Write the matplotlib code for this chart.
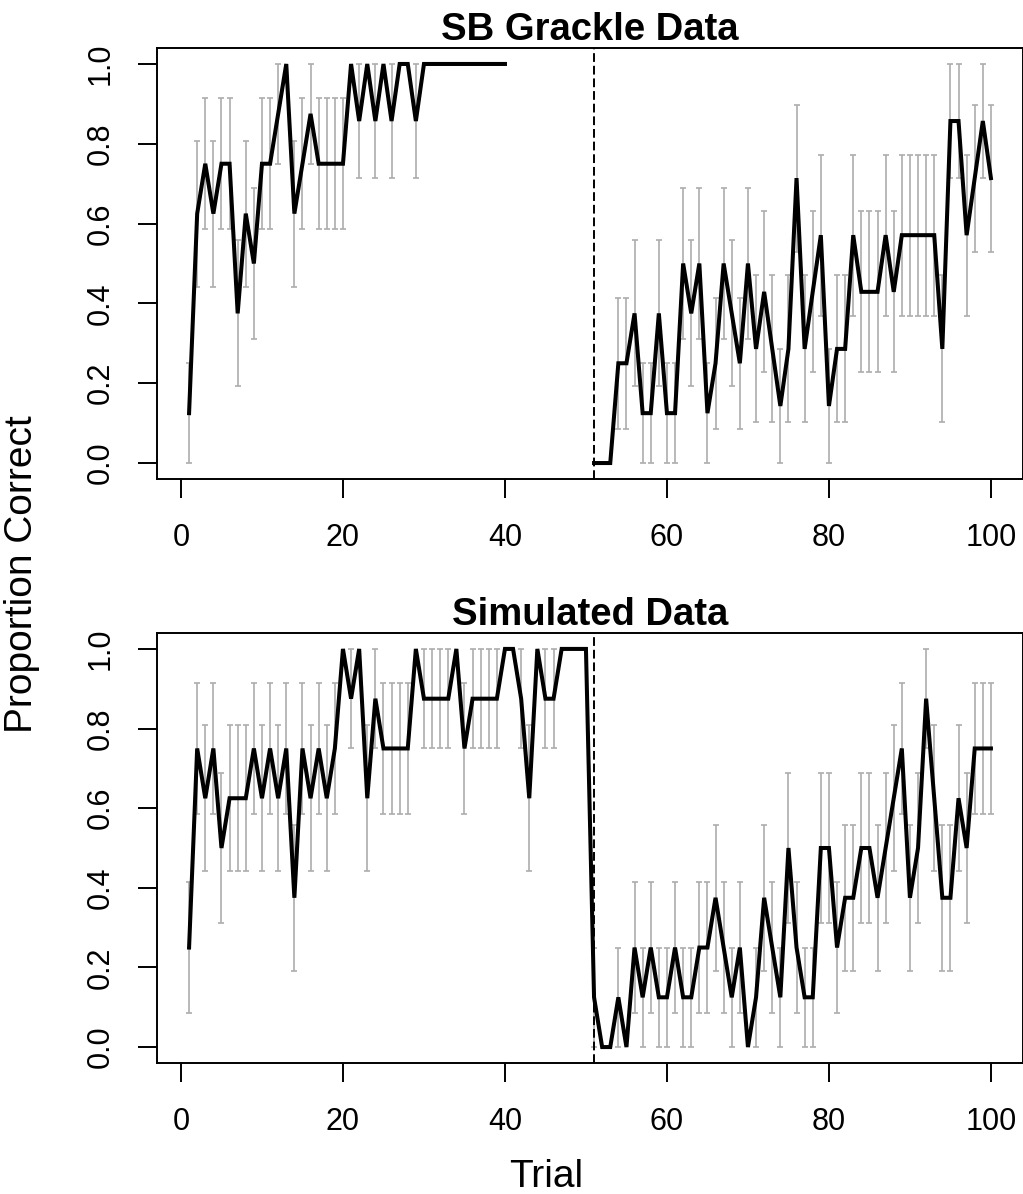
import numpy as np
import matplotlib
matplotlib.use("Agg")
import matplotlib.pyplot as plt

plt.rcParams['font.family'] = ['Liberation Sans', 'DejaVu Sans']

# SB grackle data: first reversal (trials 1-40) and second phase (trials 51-100)
grackle_trials_a = list(range(1, 41))
grackle_prop_a = [0.125, 0.625, 0.75, 0.625, 0.75, 0.75, 0.375, 0.625, 0.5, 0.75,
                  0.75, 0.875, 1.0, 0.625, 0.75, 0.875, 0.75, 0.75, 0.75, 0.75,
                  1.0, 0.857, 1.0, 0.857, 1.0, 0.857, 1.0, 1.0, 0.857, 1.0,
                  1.0, 1.0, 1.0, 1.0, 1.0, 1.0, 1.0, 1.0, 1.0, 1.0]
grackle_se_a = [0.125, 0.183, 0.164, 0.183, 0.164, 0.164, 0.183, 0.183, 0.189, 0.164,
                0.164, 0.125, 0, 0.183, 0.164, 0.125, 0.164, 0.164, 0.164, 0.164,
                0, 0.143, 0, 0.143, 0, 0.143, 0, 0, 0.143, 0,
                0, 0, 0, 0, 0, 0, 0, 0, 0, 0]

grackle_trials_b = list(range(51, 101))
grackle_prop_b = [0, 0, 0, 0.25, 0.25, 0.375, 0.125, 0.125, 0.375, 0.125,
                  0.125, 0.5, 0.375, 0.5, 0.125, 0.25, 0.5, 0.375, 0.25, 0.5,
                  0.286, 0.429, 0.286, 0.143, 0.286, 0.714, 0.286, 0.429, 0.571, 0.143,
                  0.286, 0.286, 0.571, 0.429, 0.429, 0.429, 0.571, 0.429, 0.571, 0.571,
                  0.571, 0.571, 0.571, 0.286, 0.857, 0.857, 0.571, 0.714, 0.857, 0.714]
grackle_se_b = [0, 0, 0, 0.164, 0.164, 0.183, 0.125, 0.125, 0.183, 0.125,
                0.125, 0.189, 0.183, 0.189, 0.125, 0.164, 0.189, 0.183, 0.164, 0.189,
                0.184, 0.202, 0.184, 0.143, 0.184, 0.184, 0.184, 0.202, 0.202, 0.143,
                0.184, 0.184, 0.202, 0.202, 0.202, 0.202, 0.202, 0.202, 0.202, 0.202,
                0.202, 0.202, 0.202, 0.184, 0.143, 0.143, 0.202, 0.184, 0.143, 0.184]

# simulated data, trials 1-100
sim_trials = list(range(1, 101))
sim_prop = [0.25, 0.75, 0.625, 0.75, 0.5, 0.625, 0.625, 0.625, 0.75, 0.625,
            0.75, 0.625, 0.75, 0.375, 0.75, 0.625, 0.75, 0.625, 0.75, 1.0,
            0.875, 1.0, 0.625, 0.875, 0.75, 0.75, 0.75, 0.75, 1.0, 0.875,
            0.875, 0.875, 0.875, 1.0, 0.75, 0.875, 0.875, 0.875, 0.875, 1.0,
            1.0, 0.875, 0.625, 1.0, 0.875, 0.875, 1.0, 1.0, 1.0, 1.0,
            0.125, 0, 0, 0.125, 0, 0.25, 0.125, 0.25, 0.125, 0.125,
            0.25, 0.125, 0.125, 0.25, 0.25, 0.375, 0.25, 0.125, 0.25, 0,
            0.125, 0.375, 0.25, 0.125, 0.5, 0.25, 0.125, 0.125, 0.5, 0.5,
            0.25, 0.375, 0.375, 0.5, 0.5, 0.375, 0.5, 0.625, 0.75, 0.375,
            0.5, 0.875, 0.625, 0.375, 0.375, 0.625, 0.5, 0.75, 0.75, 0.75]
sim_se = [0.164, 0.164, 0.183, 0.164, 0.189, 0.183, 0.183, 0.183, 0.164, 0.183,
          0.164, 0.183, 0.164, 0.183, 0.164, 0.183, 0.164, 0.183, 0.164, 0,
          0.125, 0, 0.183, 0.125, 0.164, 0.164, 0.164, 0.164, 0, 0.125,
          0.125, 0.125, 0.125, 0, 0.164, 0.125, 0.125, 0.125, 0.125, 0,
          0, 0.125, 0.183, 0, 0.125, 0.125, 0, 0, 0, 0,
          0.125, 0, 0, 0.125, 0, 0.164, 0.125, 0.164, 0.125, 0.125,
          0.164, 0.125, 0.125, 0.164, 0.164, 0.183, 0.164, 0.125, 0.164, 0,
          0.125, 0.183, 0.164, 0.125, 0.189, 0.164, 0.125, 0.125, 0.189, 0.189,
          0.164, 0.183, 0.183, 0.189, 0.189, 0.183, 0.189, 0.183, 0.164, 0.183,
          0.189, 0.125, 0.183, 0.183, 0.183, 0.183, 0.189, 0.164, 0.164, 0.164]

reversal_trial = 51

W, H = 1023, 1194
fig = plt.figure(figsize=(W / 100, H / 100), dpi=100)


def px_axes(left, top, right, bottom):
    return fig.add_axes([left / W, (H - bottom) / H, (right - left) / W, (bottom - top) / H])


def draw_series(ax, x, y, se):
    x = np.asarray(x)
    y = np.asarray(y, dtype=float)
    se = np.asarray(se, dtype=float)
    m = se > 0
    ax.errorbar(x[m], y[m], yerr=se[m], fmt='none', ecolor='#adadad',
                elinewidth=1.2, capsize=2.2, capthick=1.2, zorder=1)
    ax.plot(x, y, color='black', lw=2.9, zorder=3, solid_joinstyle='miter')


def style_axes(ax, title):
    ax.set_xlim(-2.96, 103.96)
    ax.set_ylim(-0.04, 1.04)
    ax.set_xticks([0, 20, 40, 60, 80, 100])
    ax.set_yticks([0, 0.2, 0.4, 0.6, 0.8, 1.0])
    ax.set_yticklabels(['0.0', '0.2', '0.4', '0.6', '0.8', '1.0'], rotation=90, va='center')
    ax.tick_params(axis='both', direction='out', length=14, width=1.4, labelsize=22)
    ax.tick_params(axis='x', pad=18)
    ax.tick_params(axis='y', pad=16)
    for s in ax.spines.values():
        s.set_linewidth(1.4)
    ax.axvline(reversal_trial, color='black', lw=1.4, ls=(0, (4.5, 2)), zorder=2)
    ax.set_title(title, fontsize=27.5, fontweight='bold', pad=6)


ax1 = px_axes(157, 48, 1023, 479)
draw_series(ax1, grackle_trials_a, grackle_prop_a, grackle_se_a)
draw_series(ax1, grackle_trials_b, grackle_prop_b, grackle_se_b)
style_axes(ax1, 'SB Grackle Data')

ax2 = px_axes(157, 633, 1023, 1063)
draw_series(ax2, sim_trials, sim_prop, sim_se)
style_axes(ax2, 'Simulated Data')

fig.text(546 / W, (H - 1177) / H, 'Trial', fontsize=28, ha='center', va='center')
fig.text(22 / W, (H - 574) / H, 'Proportion Correct', fontsize=28, rotation=90,
         ha='center', va='center')

fig.savefig('out.png', dpi=100)
